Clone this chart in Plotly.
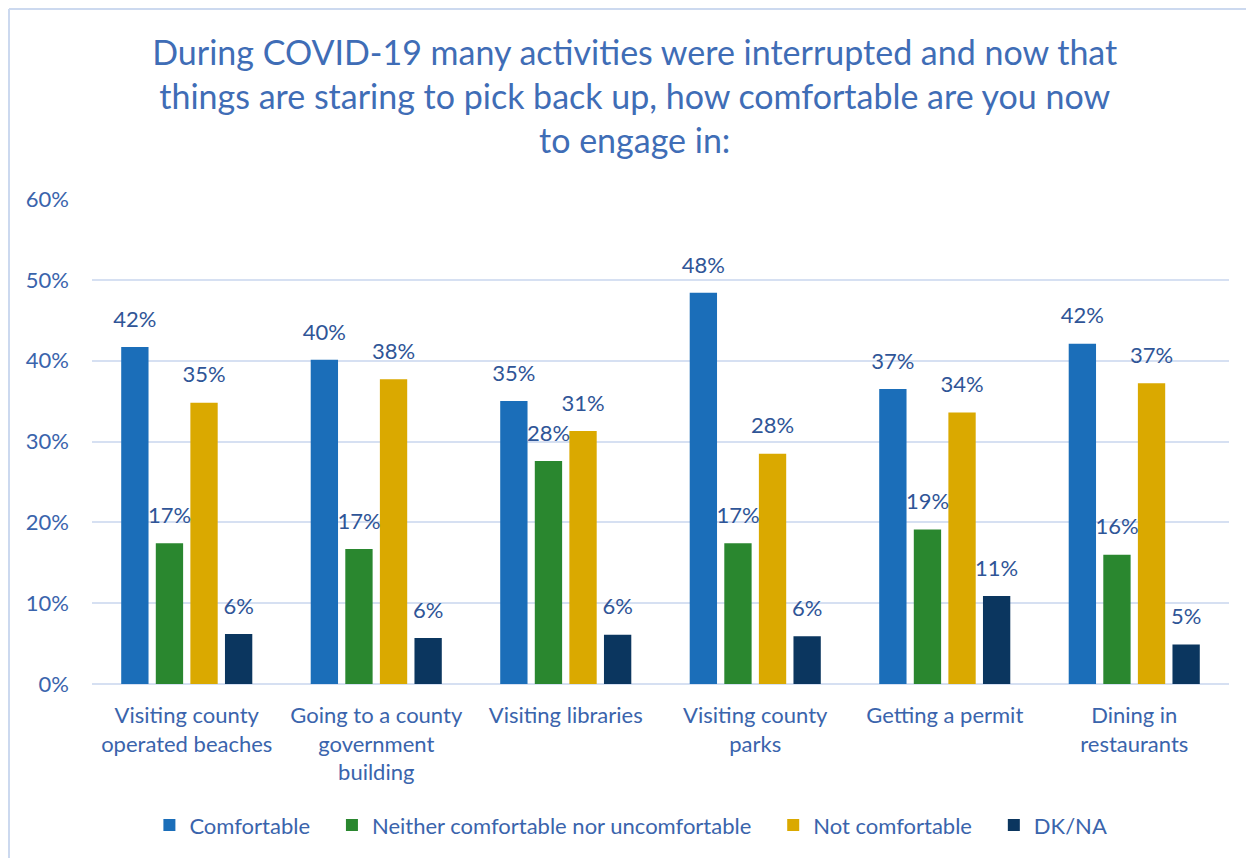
import plotly.graph_objects as go

categories = [
    "Visiting county<br>operated beaches",
    "Going to a county<br>government<br>building",
    "Visiting libraries",
    "Visiting county<br>parks",
    "Getting a permit",
    "Dining in<br>restaurants",
]
comfortable = [0.417, 0.401, 0.350, 0.484, 0.365, 0.421]
neither = [0.174, 0.167, 0.276, 0.174, 0.191, 0.160]
not_comfortable = [0.348, 0.377, 0.313, 0.285, 0.336, 0.372]
dkna = [0.062, 0.057, 0.061, 0.059, 0.109, 0.049]

series = [
    ("Comfortable", comfortable, "#1B6EB9"),
    ("Neither comfortable nor uncomfortable", neither, "#2A872F"),
    ("Not comfortable", not_comfortable, "#DAA900"),
    ("DK/NA", dkna, "#0B365F"),
]

FONT = "Lato, 'Open Sans', sans-serif"
TXT = "#3A64AC"
PAD = "\u00a0" * 3

# figure is offset 8px by the page body margin; plot area in figure px
L, R, T, B = 84, 25, 191, 174
W, H = 1246, 850
PW, PH = W - L - R, H - T - B

fig = go.Figure()
for name, vals, col in series:
    fig.add_trace(go.Bar(
        name=name + PAD, x=categories, y=vals,
        marker=dict(color=col, line=dict(width=0)),
        hovertemplate=name + ": %{y:.0%}<extra></extra>",
    ))
for name, vals, col in series:
    fig.add_trace(go.Scatter(
        x=categories, y=vals, mode="markers+text",
        marker=dict(size=22, color="rgba(0,0,0,0)"),
        texttemplate="%{y:.0%}", textposition="top center",
        textfont=dict(size=22, color="#2F5597", family=FONT),
        showlegend=False, hoverinfo="skip", cliponaxis=False,
    ))

bx = (1 - L) / PW
by = (PH + T - 1) / PH

fig.update_layout(
    width=W, height=H,
    paper_bgcolor="white", plot_bgcolor="white",
    margin=dict(l=L, r=R, t=T, b=B, autoexpand=False),
    barmode="group", bargap=0.27, bargroupgap=0.21,
    scattermode="group", scattergap=0.27,
    font=dict(family=FONT, color=TXT),
    title=dict(
        text="During COVID-19 many activities were interrupted and now that<br>things are staring to pick back up, how comfortable are you now<br>to engage in:",
        x=0.503, xanchor="center", xref="container", y=0.933, yanchor="top",
        font=dict(size=34, color="#3F6DB6", family=FONT),
    ),
    legend=dict(
        orientation="h", x=0.481, xanchor="center", y=-0.248, yanchor="top",
        font=dict(size=22, color=TXT, family=FONT),
        itemwidth=30, traceorder="normal",
    ),
    yaxis=dict(
        range=[0, 0.6], dtick=0.1, tickformat=".0%",
        showgrid=True, gridcolor="#D6E0F2", gridwidth=2,
        zeroline=True, zerolinecolor="#D6E0F2", zerolinewidth=2,
        tickfont=dict(size=22, color=TXT), ticks="", ticklabelstandoff=22,
        automargin=False,
    ),
    xaxis=dict(
        tickfont=dict(size=22, color=TXT), ticks="", showline=False,
        ticklabelstandoff=16, automargin=False,
    ),
    shapes=[
        dict(type="line", xref="paper", yref="paper",
             x0=bx, x1=1.1, y0=by, y1=by,
             line=dict(color="#CCD9EF", width=2)),
        dict(type="line", xref="paper", yref="paper",
             x0=bx, x1=bx, y0=by, y1=-0.5,
             line=dict(color="#CCD9EF", width=2)),
    ],
)

fig.write_html("out.html")
